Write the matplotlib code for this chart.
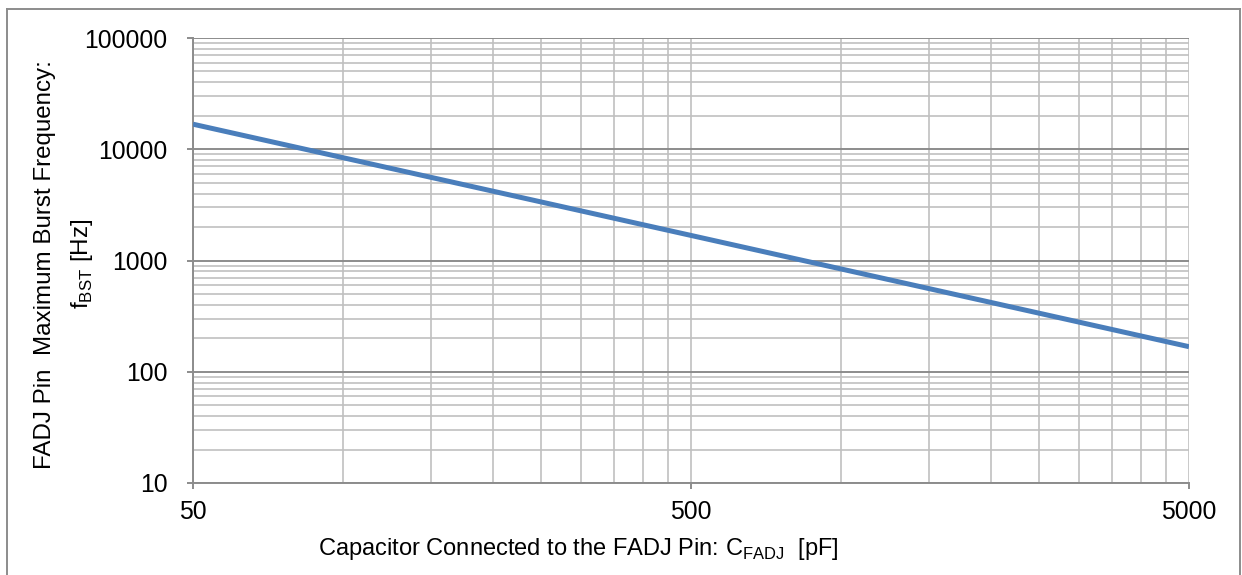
import matplotlib
matplotlib.use("Agg")
import matplotlib.pyplot as plt
from matplotlib.ticker import LogLocator, FixedLocator, NullFormatter, FixedFormatter
from matplotlib.lines import Line2D

cap_pf = [50, 100, 200, 500, 1000, 2000, 5000]
freq_hz = [16800, 8400, 4200, 1680, 840, 420, 168]
x_ticks = [50, 500, 5000]
x_tick_labels = ["50", "500", "5000"]
y_ticks = [10, 100, 1000, 10000, 100000]
y_tick_labels = ["10", "100", "1000", "10000", "100000"]

plt.rcParams['font.family'] = ['Liberation Sans', 'DejaVu Sans']
FS = 17.8

W, H = 1242, 575
fig = plt.figure(figsize=(W/100, H/100), dpi=100)
ax = fig.add_axes([193/W, 1-483/H, (1189-193)/W, (483-38)/H])

ax.set_xscale('log')
ax.set_yscale('log')
ax.set_xlim(50, 5000)
ax.set_ylim(10, 100000)

xminor = []
for dec in [50, 500]:
    for k in range(2, 11):
        v = dec * k
        if v < 5000:
            xminor.append(v)
ax.xaxis.set_minor_locator(FixedLocator(xminor))
ax.yaxis.set_minor_locator(LogLocator(base=10, subs=range(2, 10)))
ax.xaxis.set_minor_formatter(NullFormatter())
ax.yaxis.set_minor_formatter(NullFormatter())
ax.xaxis.set_major_locator(FixedLocator(x_ticks))
ax.xaxis.set_major_formatter(FixedFormatter(x_tick_labels))
ax.yaxis.set_major_locator(FixedLocator(y_ticks))
ax.yaxis.set_major_formatter(FixedFormatter(y_tick_labels))

ax.xaxis.grid(True, which='both', color='#c0c0c0', linewidth=1.2)
ax.yaxis.grid(True, which='minor', color='#c0c0c0', linewidth=1.2)
ax.yaxis.grid(True, which='major', color='#8c8c8c', linewidth=1.4)
ax.set_axisbelow(True)

ax.plot(cap_pf, freq_hz, color='#4a7ebb', linewidth=3.6, solid_capstyle='butt', zorder=3)

for s in ['top', 'right']:
    ax.spines[s].set_visible(False)
for s in ['left', 'bottom']:
    ax.spines[s].set_color('#8c8c8c')
    ax.spines[s].set_linewidth(1.4)

ax.tick_params(axis='y', which='major', direction='out', length=4.5, color='#8c8c8c', width=1.4,
               labelsize=FS, pad=14)
ax.tick_params(axis='x', which='major', direction='out', length=4.5, color='#8c8c8c', width=1.4,
               labelsize=FS, pad=8)
ax.tick_params(which='minor', length=0)

fig.text(578/W, 1-549/H, r"Capacitor Connected to the FADJ Pin: C$_{\mathregular{FADJ}}$  [pF]",
         fontsize=17.0, ha='center', va='center')
fig.text(45/W, 1-265/H, "FADJ Pin  Maximum Burst Frequency:", fontsize=17.4,
         rotation=90, ha='center', va='center')
fig.text(82/W, 1-264/H, r"f$_{\mathregular{BST}}$ [Hz]", fontsize=17.4,
         rotation=90, ha='center', va='center')

bc = '#8c8c8c'
fig.add_artist(Line2D([6.5/W, 6.5/W], [0, 1-9/H], transform=fig.transFigure, color=bc, lw=1.4))
fig.add_artist(Line2D([1240/W, 1240/W], [0, 1-9/H], transform=fig.transFigure, color=bc, lw=1.4))
fig.add_artist(Line2D([6.5/W, 1240/W], [1-9/H, 1-9/H], transform=fig.transFigure, color=bc, lw=1.4))

fig.savefig("out.png", dpi=100)
